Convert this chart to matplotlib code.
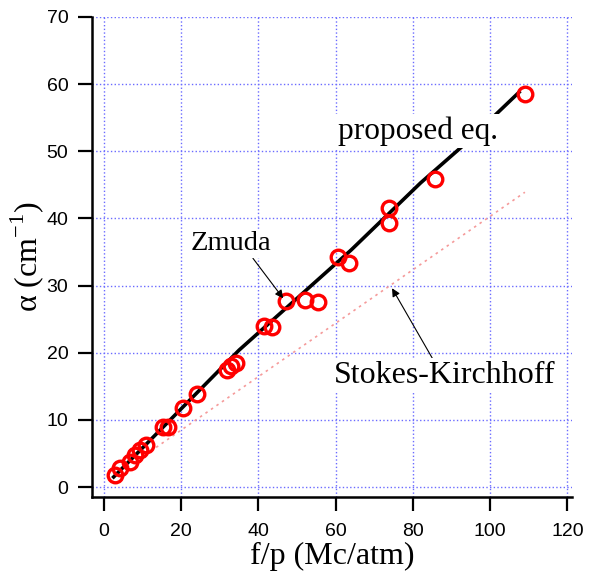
import matplotlib
matplotlib.use("Agg")
import matplotlib.pyplot as plt

# measured points (f/p in Mc/atm, alpha in cm^-1)
meas_fp = [2.9, 4.1, 6.7, 8.0, 9.3, 10.8, 15.3, 16.6, 20.4, 24.0, 31.8, 33.0, 34.2,
           41.5, 43.6, 47.1, 52.0, 55.3, 60.6, 63.5, 73.8, 73.8, 85.8, 109.0]
meas_alpha = [1.8, 2.8, 3.7, 4.8, 5.5, 6.2, 9.0, 8.9, 11.7, 13.8, 17.4, 18.0, 18.4,
              24.0, 23.8, 27.7, 27.9, 27.6, 34.2, 33.3, 41.5, 39.3, 45.8, 58.5]

# proposed equation curve
prop_fp = [2.5, 12.0, 35.0, 64.0, 82.0, 93.5, 107.5]
prop_alpha = [1.5, 7.0, 20.4, 35.3, 45.3, 51.1, 58.8]

# Stokes-Kirchhoff classical line
sk_fp = [13.5, 109.0]
sk_alpha = [5.9, 43.9]

xticks = [0, 20, 40, 60, 80, 100, 120]
yticks = [0, 10, 20, 30, 40, 50, 60, 70]

serif = ["Liberation Serif", "DejaVu Serif"]
narrow = ["Liberation Sans Narrow", "DejaVu Sans Condensed", "Liberation Sans", "DejaVu Sans"]

plt.rcParams["mathtext.fontset"] = "custom"
plt.rcParams["mathtext.rm"] = "Liberation Serif"

fig = plt.figure(figsize=(5.9, 5.76), dpi=100)
ax = fig.add_axes([0.156, 0.137, 0.8135, 0.8335])

ax.set_xlim(-3.1, 121.2)
ax.set_ylim(-1.5, 70)
ax.set_xticks(xticks)
ax.set_yticks(yticks)
ax.grid(True, color="#6b6bff", linestyle=":", linewidth=1.0)
ax.set_axisbelow(True)

for side in ["top", "right"]:
    ax.spines[side].set_visible(False)
for side in ["left", "bottom"]:
    ax.spines[side].set_linewidth(1.8)

ax.tick_params(direction="out", length=10, width=1.6, labelsize=14)
ax.tick_params(axis="x", pad=9)
ax.tick_params(axis="y", pad=7)
for lab in ax.get_xticklabels() + ax.get_yticklabels():
    lab.set_family(narrow)

ax.plot(sk_fp, sk_alpha, color="#f59a9a", linestyle=(0, (1.5, 2.5)), linewidth=1.2, zorder=2)
ax.plot(prop_fp, prop_alpha, color="black", linewidth=2.6, zorder=3)
ax.plot(meas_fp, meas_alpha, linestyle="none", marker="o", markersize=10.5,
        markerfacecolor="none", markeredgecolor="red", markeredgewidth=2.4, zorder=4)

box = dict(boxstyle="square,pad=0.08", facecolor="white", edgecolor="none")

ax.text(81.3, 51.9, "proposed eq.", family=serif, fontsize=22.5, ha="center",
        va="baseline", bbox=box, zorder=5)
ax.annotate("Zmuda", xy=(46.4, 28.1), xytext=(32.9, 35.3), family=serif, fontsize=20.5,
            ha="center", va="baseline", bbox=box, zorder=5,
            arrowprops=dict(arrowstyle="-|>", color="black", lw=0.8, mutation_scale=12,
                            shrinkA=0, shrinkB=0, relpos=(0.75, 0.0)))
ax.annotate("Stokes-Kirchhoff", xy=(74.6, 29.6), xytext=(88.3, 15.5), family=serif,
            fontsize=23, ha="center", va="baseline", bbox=box, zorder=5,
            arrowprops=dict(arrowstyle="-|>", color="black", lw=0.8, mutation_scale=12,
                            shrinkA=0, shrinkB=0, relpos=(0.45, 1.0)))

ax.set_xlabel("f/p (Mc/atm)", family=serif, fontsize=23)
ax.set_ylabel(r"α (cm$^{\mathregular{-1}}$)", family=serif, fontsize=23)
ax.xaxis.set_label_coords(0.5, -0.094)
ax.yaxis.set_label_coords(-0.135, 0.5)
ax.yaxis.label.set_va("center")

fig.savefig("out.png", dpi=100)
